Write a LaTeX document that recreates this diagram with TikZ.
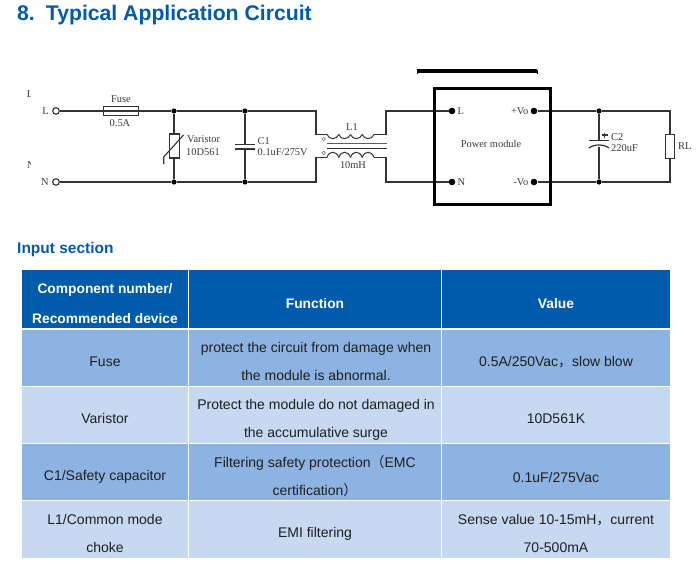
\documentclass[tikz,border=0pt]{standalone}
\usepackage{fontspec}
\setmainfont{Liberation Sans}
\newfontfamily\serifc{Liberation Serif}
\newfontfamily\cjk{Noto Sans CJK SC}
\definecolor{hdr}{HTML}{005BAC}
\definecolor{rowd}{HTML}{8DB3E2}
\definecolor{rowl}{HTML}{C6D9F1}
\definecolor{wire}{HTML}{333333}
\definecolor{ctext}{HTML}{3A3A3A}
\tikzset{
  x=1pt,y=-1pt,
  wireline/.style={draw=wire,line width=1.1pt},
  part/.style={draw=wire,line width=1.1pt,fill=white},
  dotnode/.style={circle,fill=black,inner sep=0pt,minimum size=5.2pt},
  bigdot/.style={circle,fill=black,inner sep=0pt,minimum size=6.6pt},
  term/.style={circle,draw=wire,line width=1.1pt,fill=white,inner sep=0pt,minimum size=6.6pt},
  tinyterm/.style={circle,draw=wire!70,line width=0.5pt,fill=white,inner sep=0pt,minimum size=3.6pt},
  lab/.style={inner sep=0pt,text=ctext,font=\serifc\fontsize{10.4}{12}\selectfont},
  gridline/.style={draw=white,line width=1.2pt},
  hcell/.style={text=white,inner sep=0pt,align=center,font=\bfseries\fontsize{13.8}{30}\selectfont},
  bcell/.style={text=black!88,inner sep=0pt,align=center,font=\fontsize{14}{28}\selectfont},
}
\begin{document}
\begin{tikzpicture}
\useasboundingbox (0,0) rectangle (698,575);
\fill[white] (0,0) rectangle (698,575);
% headings
\node[anchor=base west,inner sep=0pt,text=hdr,font=\bfseries\fontsize{21.2}{24}\selectfont] (title) at (17,21) {8.\hspace{11pt}Typical Application Circuit};
\node[anchor=base west,inner sep=0pt,text=hdr,font=\bfseries\fontsize{15.5}{18}\selectfont] (insec) at (17,253) {Input section};
% table
\fill[hdr] (22,270) rectangle (670,329);
\fill[rowd] (22,329) rectangle (670,386.5);
\fill[rowl] (22,386.5) rectangle (670,443.5);
\fill[rowd] (22,443.5) rectangle (670,500.5);
\fill[rowl] (22,500.5) rectangle (670,558);
\draw[gridline] (22,329) -- (670,329) (22,386.5) -- (670,386.5) (22,443.5) -- (670,443.5) (22,500.5) -- (670,500.5);
\draw[gridline] (188.5,270) -- (188.5,558) (441.5,270) -- (441.5,558);
\node[hcell] (h1) at (105,304) {Component number/\\Recommended device};
\node[hcell] (h2) at (315,303.5) {Function};
\node[hcell] (h3) at (556,303.5) {Value};
\node[bcell] (a1) at (105,362) {Fuse};
\node[bcell] (b1) at (316,361) {protect the circuit from damage when\\the module is abnormal.};
\node[bcell] (c1) at (556,362) {0.5A/250Vac{\cjk ，}slow blow};
\node[bcell] (a2) at (105,418.5) {Varistor};
\node[bcell] (b2) at (316,419.5) {Protect the module do not damaged in\\the accumulative surge};
\node[bcell] (c2) at (556,419) {10D561K};
\node[bcell] (a3) at (105,477) {C1/Safety capacitor};
\node[bcell] (b3) at (315,476.5) {Filtering safety protection{\cjk （}EMC\\certification{\cjk ）}};
\node[bcell] (c3) at (556,477) {0.1uF/275Vac};
\node[bcell] (a4) at (105,533.5) {L1/Common mode\\choke};
\node[bcell] (b4) at (315,533.5) {EMI filtering};
\node[bcell] (c4) at (556,533.5) {Sense value 10-15mH{\cjk ，}current\\70-500mA};
% circuit nodes
\node[term] (tL) at (56,111) {};
\node[term] (tN) at (56,182) {};
\node[dotnode] (j1) at (174,111) {};
\node[dotnode] (j2) at (174,182) {};
\node[dotnode] (j3) at (245,111) {};
\node[dotnode] (j4) at (245,182) {};
\node[dotnode] (j5) at (599,111) {};
\node[dotnode] (j6) at (599,182) {};
\coordinate (tr1) at (316,111);
\coordinate (br1) at (316,182);
\coordinate (tr2) at (316,134.5);
\coordinate (br2) at (316,157.5);
\coordinate (cl1) at (327,134.5);
\coordinate (cl2) at (327,157.5);
\coordinate (cr1) at (374,134.5);
\coordinate (cr2) at (374,157.5);
\coordinate (ou1) at (386,134.5);
\coordinate (ou2) at (386,157.5);
\coordinate (tu1) at (386,111);
\coordinate (bu1) at (386,182);
\coordinate (rt) at (670,111);
\coordinate (rb) at (670,182);
\node[bigdot] (mL) at (452,111) {};
\node[bigdot] (mN) at (452,182) {};
\node[bigdot] (mP) at (534,111) {};
\node[bigdot] (mM) at (534,182) {};
% wires
\draw[wireline] (tL) -- (j1) -- (j3) -- (tr1) -- (tr2) -- (cl1);
\draw[wireline] (tN) -- (j2) -- (j4) -- (br1) -- (br2) -- (cl2);
\draw[wireline] (cr1) -- (ou1) -- (tu1) -- (mL);
\draw[wireline] (cr2) -- (ou2) -- (bu1) -- (mN);
\draw[wireline] (mP) -- (j5) -- (rt) -- (rb) -- (j6) -- (mM);
\draw[wireline] (j1) -- (j2);
\draw[wireline] (j3) -- (j4);
\draw[wireline] (j5) -- (j6);
% fuse
\node[part,minimum width=35pt,minimum height=9pt,inner sep=0pt] (fuse) at (121,111) {};
\draw[wireline] (fuse.west) -- (fuse.east);
% varistor
\node[part,minimum width=9.5pt,minimum height=24pt,inner sep=0pt] (var) at (174.3,146) {};
\draw[wireline] (163.7,164) -- (163.7,157) -- (183.5,135);
% C1
\path[fill=white] (236,144.5) rectangle (254,149);
\draw[wire,line width=1.2pt] (235,144.5) -- (255,144.5) (235,149) -- (255,149);
% coils
\foreach \i in {0,1,2,3}{
  \draw[wire,line width=1pt] (327+11.75*\i,134.5) .. controls (329+11.75*\i,140) and (336.5+11.75*\i,140) .. (338.75+11.75*\i,134.5);
}
\foreach \i in {0,1,2,3}{
  \draw[wire,line width=1pt] (327+11.75*\i,157.5) .. controls (329+11.75*\i,150.5) and (336.5+11.75*\i,150.5) .. (338.75+11.75*\i,157.5);
}
\draw[wire!80,line width=1.4pt] (327,143.7) -- (387,143.7);
\draw[wire,line width=1pt] (327,148.2) -- (387,148.2);
\node[tinyterm] (d1) at (323.7,139) {};
\node[tinyterm] (d2) at (323.7,153) {};
% module
\node[draw=black,line width=3pt,fill=none,minimum width=116pt,minimum height=116pt,inner sep=0pt] (mod) at (492.5,146.5) {};
\draw[black,line width=3.2pt] (417,71) -- (537,71);
\draw[black,line width=1pt] (417,70) -- (417,74) (537,70) -- (537,74);
% C2
\path[fill=white] (590,140) rectangle (608,147);
\draw[wire,line width=1.2pt] (589,140.2) -- (609,140.2);
\draw[wire,line width=1.2pt] (589,148) .. controls (594,144) and (604,144) .. (609,148);
\draw[wire,line width=1.1pt] (601.5,135) -- (607.5,135) (604.5,132.5) -- (604.5,137.5);
% RL
\node[part,minimum width=9pt,minimum height=23.5pt,inner sep=0pt] (rl) at (670,146.5) {};
% labels
\node[lab] at (121,99) {Fuse};
\node[lab] at (120,123) {0.5A};
\node[lab] at (45.5,111) {L};
\node[lab] at (45,182) {N};
\begin{scope}
\clip (25,88) rectangle (30.5,172);
\node[lab] at (30,94.5) {L};
\node[lab] at (31,165) {N};
\end{scope}
\node[lab,anchor=west] at (187,139.5) {Varistor};
\node[lab,anchor=west] at (186,152) {10D561};
\node[lab,anchor=west] at (257.5,141) {C1};
\node[lab,anchor=west] at (257.5,152.5) {0.1uF/275V};
\node[lab] at (352,127) {L1};
\node[lab] at (353,165) {10mH};
\node[lab,anchor=west] at (457.5,111) {L};
\node[lab,anchor=west] at (457.5,182) {N};
\node[lab,anchor=east] at (528.5,111) {+Vo};
\node[lab,anchor=east] at (528.5,182) {-Vo};
\node[lab] at (491,144) {Power module};
\node[lab,anchor=west] at (611,137) {C2};
\node[lab,anchor=west] at (611,148.5) {220uF};
\node[lab,anchor=west] at (678,146.5) {RL};
\end{tikzpicture}
\end{document}
